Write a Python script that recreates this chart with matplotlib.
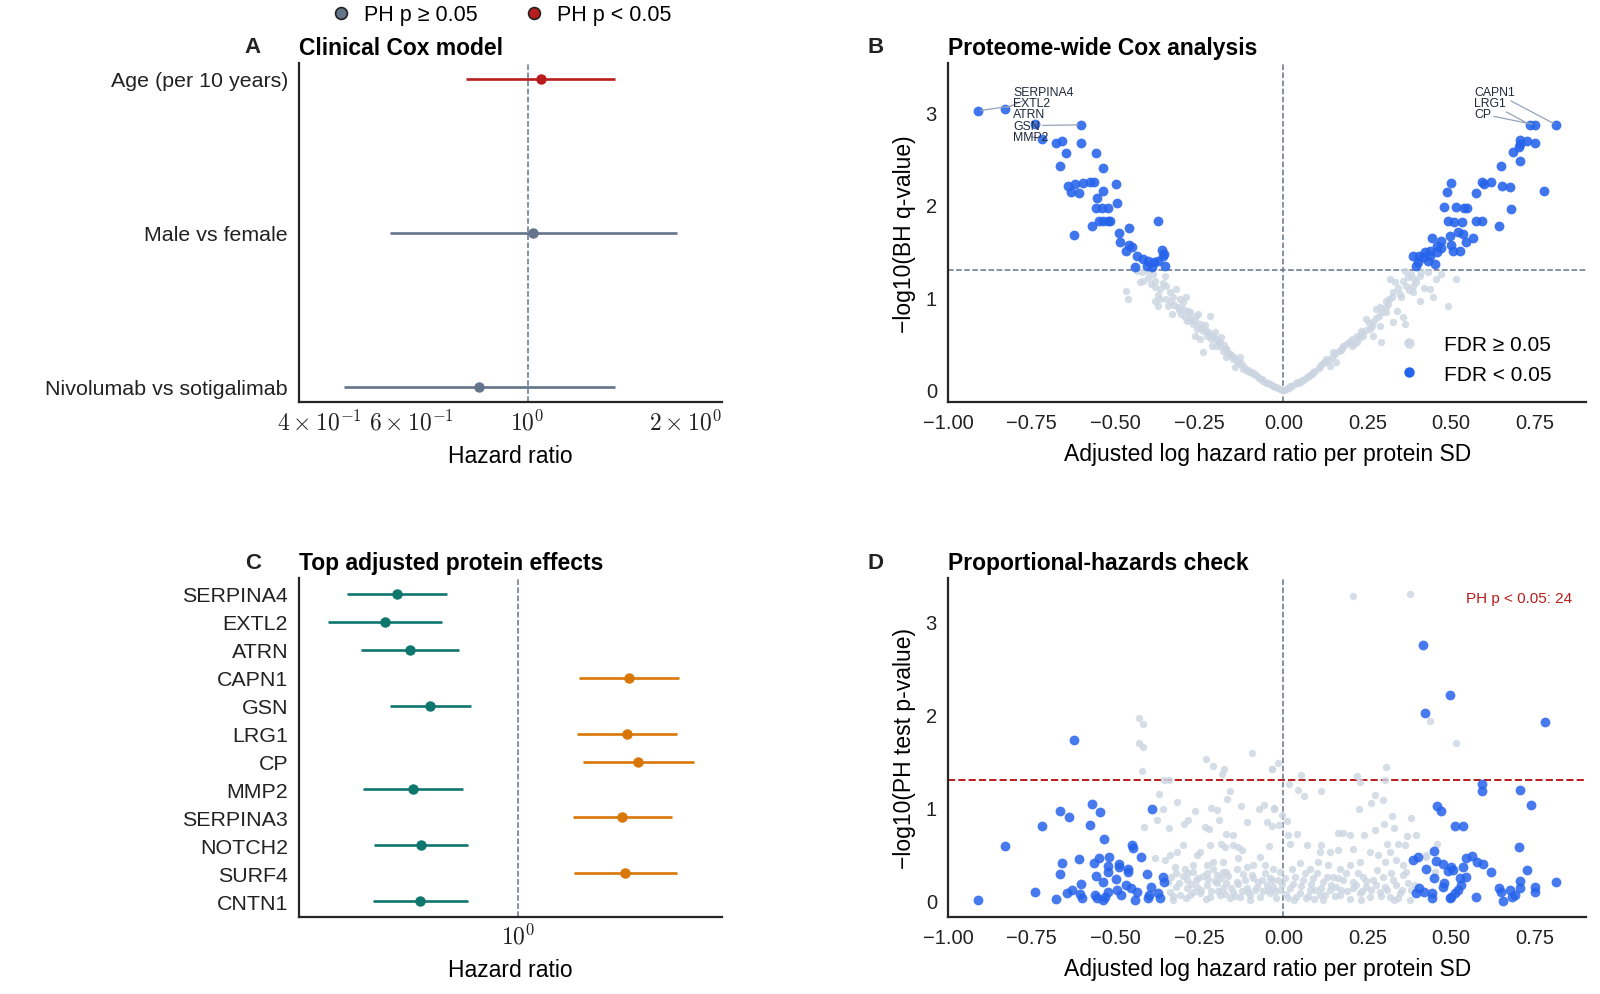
import matplotlib.pyplot as plt
import numpy as np
from matplotlib.lines import Line2D
from matplotlib.ticker import FixedFormatter, FixedLocator, NullLocator

plt.rcParams["font.family"] = ["Liberation Sans", "DejaVu Sans"]
plt.rcParams["mathtext.fontset"] = "cm"

# ---- panel A: clinical Cox model ----
clin_terms = ["Age (per 10 years)", "Male vs female", "Nivolumab vs sotigalimab"]
clin_hr = [1.059, 1.025, 0.809]
clin_lo = [0.764, 0.545, 0.446]
clin_hi = [1.467, 1.932, 1.467]
clin_ph_sig = [True, False, False]

# ---- panel C: top adjusted protein effects ----
prot_names = ["SERPINA4", "EXTL2", "ATRN", "CAPN1", "GSN", "LRG1", "CP",
              "MMP2", "SERPINA3", "NOTCH2", "SURF4", "CNTN1"]
prot_hr = [0.431, 0.397, 0.471, 2.15, 0.542, 2.12, 2.29, 0.481, 2.05, 0.510, 2.10, 0.507]
prot_lo = [0.305, 0.267, 0.335, 1.52, 0.410, 1.50, 1.57, 0.340, 1.46, 0.369, 1.47, 0.365]
prot_hi = [0.610, 0.589, 0.665, 3.05, 0.720, 3.00, 3.37, 0.681, 2.90, 0.706, 3.00, 0.706]

# ---- panel B: volcano (log HR, -log10 q) ----
b_sig = np.array([
    (-0.911, 3.016), (-0.830, 3.041), (-0.741, 2.872), (-0.604, 2.865), (-0.721, 2.717),
    (-0.678, 2.667), (-0.661, 2.685), (-0.604, 2.667), (-0.648, 2.559), (-0.559, 2.559),
    (-0.666, 2.415), (-0.537, 2.397), (-0.641, 2.199), (-0.622, 2.224), (-0.599, 2.231),
    (-0.577, 2.242), (-0.564, 2.242), (-0.634, 2.141), (-0.610, 2.127), (-0.500, 2.224),
    (-0.537, 2.152), (-0.557, 2.076), (-0.495, 2.019), (-0.560, 1.961), (-0.542, 1.961),
    (-0.524, 1.961), (-0.550, 1.828), (-0.537, 1.828), (-0.522, 1.828), (-0.517, 1.828),
    (-0.572, 1.774), (-0.624, 1.673), (-0.373, 1.828), (-0.489, 1.695), (-0.461, 1.749),
    (-0.486, 1.594), (-0.460, 1.565), (-0.453, 1.540), (-0.470, 1.504), (-0.436, 1.450),
    (-0.418, 1.414), (-0.403, 1.396), (-0.386, 1.378), (-0.375, 1.396), (-0.363, 1.515),
    (-0.358, 1.450), (-0.443, 1.324), (-0.408, 1.335), (-0.393, 1.324), (-0.354, 1.342),
    (-0.356, 1.468),
    (0.736, 2.865), (0.751, 2.865), (0.813, 2.865), (0.704, 2.703), (0.704, 2.656),
    (0.726, 2.685), (0.751, 2.667), (0.702, 2.620), (0.684, 2.566), (0.706, 2.476),
    (0.649, 2.422), (0.778, 2.145), (0.593, 2.242), (0.620, 2.242), (0.597, 2.224),
    (0.652, 2.199), (0.674, 2.188), (0.575, 2.127), (0.500, 2.235), (0.486, 2.134),
    (0.478, 1.979), (0.513, 1.979), (0.537, 1.961), (0.547, 1.961), (0.679, 1.954),
    (0.491, 1.828), (0.507, 1.817), (0.533, 1.817), (0.575, 1.828), (0.593, 1.828),
    (0.642, 1.774), (0.520, 1.702), (0.535, 1.684), (0.495, 1.659), (0.471, 1.612),
    (0.458, 1.558), (0.444, 1.637), (0.565, 1.637), (0.545, 1.601), (0.500, 1.565),
    (0.471, 1.529), (0.458, 1.486), (0.438, 1.504), (0.421, 1.486), (0.505, 1.504),
    (0.525, 1.504), (0.386, 1.443), (0.404, 1.450), (0.416, 1.432), (0.401, 1.385),
    (0.394, 1.342), (0.451, 1.360), (0.431, 1.396), (0.438, 1.450),
])
b_ns = np.array([
    (-0.423, 1.271), (-0.428, 1.163), (-0.418, 1.181), (-0.468, 1.073), (-0.463, 0.983),
    (-0.383, 1.181), (-0.383, 1.109), (-0.368, 1.091), (-0.354, 1.235), (-0.349, 1.127),
    (-0.339, 1.055), (-0.319, 1.091), (-0.383, 0.965), (-0.368, 0.983), (-0.373, 0.911),
    (-0.344, 0.911), (-0.329, 1.001), (-0.309, 0.983), (-0.291, 1.001), (-0.314, 0.893),
    (-0.331, 0.821), (-0.304, 0.821), (-0.279, 0.839), (-0.254, 0.821), (-0.219, 0.803),
    (-0.289, 0.749), (-0.269, 0.713), (-0.259, 0.659), (-0.239, 0.641), (-0.229, 0.587),
    (-0.249, 0.551), (-0.215, 0.551), (-0.185, 0.569), (-0.200, 0.479), (-0.239, 0.407),
    (-0.180, 0.425), (-0.170, 0.353), (-0.150, 0.335), (-0.135, 0.281), (-0.120, 0.227),
    (-0.100, 0.191), (-0.080, 0.155), (-0.061, 0.101), (-0.041, 0.065), (-0.021, 0.029),
    (-0.214, 0.479), (-0.190, 0.515), (-0.160, 0.389), (-0.145, 0.245), (-0.110, 0.209),
    (-0.170, 0.443), (-0.264, 0.587), (-0.249, 0.713), (-0.200, 0.551), (-0.130, 0.353),
    (-0.438, 1.289), (-0.403, 1.289), (-0.090, 0.170), (-0.070, 0.120), (-0.050, 0.080),
    (-0.010, 0.012), (-0.030, 0.045), (-0.280, 0.760), (-0.300, 0.870), (-0.225, 0.620),
    (-0.405, 1.210), (-0.395, 1.150), (-0.390, 1.250), (-0.375, 1.030), (-0.360, 1.160),
    (-0.350, 0.980), (-0.335, 0.950), (-0.325, 0.920), (-0.310, 0.860), (-0.300, 0.950),
    (-0.295, 0.790), (-0.285, 0.850), (-0.275, 0.780), (-0.265, 0.740), (-0.260, 0.800),
    (-0.245, 0.670), (-0.235, 0.700), (-0.228, 0.640), (-0.220, 0.610), (-0.210, 0.580),
    (-0.205, 0.630), (-0.195, 0.530), (-0.190, 0.470), (-0.178, 0.490), (-0.172, 0.440),
    (-0.165, 0.400), (-0.155, 0.380), (-0.148, 0.360), (-0.140, 0.310), (-0.128, 0.290),
    (-0.118, 0.250), (-0.105, 0.220), (-0.095, 0.190), (-0.085, 0.170), (-0.075, 0.140),
    (-0.065, 0.120), (-0.055, 0.090), (-0.045, 0.070), (-0.035, 0.055), (-0.025, 0.035),
    (-0.015, 0.020), (-0.005, 0.005),
    (0.317, 1.199), (0.332, 1.163), (0.356, 1.181), (0.371, 1.217), (0.361, 1.289),
    (0.386, 1.127), (0.396, 1.163), (0.406, 1.235), (0.431, 1.271), (0.456, 1.199),
    (0.515, 1.199), (0.436, 1.091), (0.446, 1.001), (0.406, 0.965), (0.386, 1.055),
    (0.347, 1.037), (0.327, 1.055), (0.307, 0.965), (0.287, 0.893), (0.307, 0.839),
    (0.277, 0.875), (0.356, 0.785), (0.361, 0.713), (0.490, 0.911), (0.371, 0.515),
    (0.292, 0.515), (0.267, 0.731), (0.247, 0.767), (0.257, 0.659), (0.237, 0.587),
    (0.218, 0.587), (0.198, 0.515), (0.178, 0.479), (0.148, 0.407), (0.128, 0.335),
    (0.108, 0.263), (0.089, 0.191), (0.069, 0.137), (0.039, 0.083), (0.019, 0.047),
    (0.267, 0.587), (0.287, 0.695), (0.327, 0.731), (0.312, 0.929), (0.337, 0.857),
    (0.203, 0.479), (0.158, 0.299), (0.138, 0.263), (0.218, 0.515), (0.010, 0.020),
    (0.055, 0.110), (0.080, 0.160), (0.120, 0.300), (0.170, 0.430), (0.230, 0.640),
    (0.005, 0.005), (0.015, 0.025), (0.025, 0.040), (0.035, 0.060), (0.045, 0.075),
    (0.055, 0.095), (0.065, 0.120), (0.075, 0.150), (0.085, 0.170), (0.095, 0.210),
    (0.105, 0.240), (0.115, 0.280), (0.125, 0.300), (0.135, 0.320), (0.145, 0.360),
    (0.155, 0.390), (0.165, 0.420), (0.175, 0.450), (0.185, 0.500), (0.195, 0.520),
    (0.205, 0.550), (0.210, 0.500), (0.225, 0.560), (0.235, 0.620), (0.245, 0.650),
    (0.255, 0.720), (0.265, 0.690), (0.275, 0.780), (0.285, 0.800), (0.295, 0.840),
    (0.305, 0.900), (0.315, 0.980), (0.325, 1.000), (0.340, 1.100), (0.350, 1.000),
    (0.365, 1.120), (0.375, 1.080), (0.380, 1.250), (0.390, 1.200), (0.410, 1.280),
    (0.420, 1.100), (0.470, 1.250),
])

# labelled proteins in panel B
b_label_names = ["SERPINA4", "EXTL2", "ATRN", "GSN", "MMP2", "CAPN1", "LRG1", "CP"]
b_label_tx = [-0.806, -0.806, -0.806, -0.806, -0.806, 0.568, 0.568, 0.568]
b_label_ty = [3.218, 3.099, 2.981, 2.856, 2.735, 3.218, 3.099, 2.981]
b_label_px = [-0.830, -0.911, -0.741, -0.604, -0.721, 0.813, 0.736, 0.751]
b_label_py = [3.041, 3.016, 2.872, 2.865, 2.717, 2.865, 2.865, 2.865]

# ---- panel D: proportional hazards check (log HR, -log10 PH p) ----
d_sig = np.array([
    (-0.912, 0.007), (-0.829, 0.586), (-0.742, 0.089), (-0.721, 0.804), (-0.678, 0.017),
    (-0.666, 0.962), (-0.639, 0.897), (-0.624, 1.727), (-0.661, 0.400), (-0.666, 0.282),
    (-0.646, 0.078), (-0.631, 0.114), (-0.610, 0.447), (-0.604, 0.175), (-0.602, 0.025),
    (-0.607, 0.068), (-0.572, 1.040), (-0.546, 0.958), (-0.578, 0.815), (-0.534, 0.668),
    (-0.565, 0.407), (-0.550, 0.461), (-0.519, 0.475), (-0.560, 0.264), (-0.537, 0.196),
    (-0.522, 0.375), (-0.522, 0.311), (-0.491, 0.393), (-0.491, 0.364), (-0.500, 0.232),
    (-0.462, 0.346), (-0.462, 0.304), (-0.452, 0.604), (-0.450, 0.568), (-0.425, 0.468),
    (-0.408, 0.282), (-0.470, 0.168), (-0.455, 0.139), (-0.495, 0.114), (-0.483, 0.060),
    (-0.522, 0.096), (-0.562, 0.060), (-0.555, 0.025), (-0.537, 0.007), (-0.532, 0.043),
    (-0.436, 0.096), (-0.443, 0.007), (-0.403, 0.025), (-0.396, 0.150), (-0.373, 0.078),
    (-0.368, 0.032), (-0.360, 0.250), (-0.355, 0.196), (-0.392, 0.987), (-0.400, 0.060),
    (0.416, 2.750), (0.497, 2.217), (0.421, 2.017), (0.779, 1.927), (0.592, 1.251),
    (0.592, 1.180), (0.706, 1.187), (0.737, 1.030), (0.459, 1.019), (0.469, 0.965),
    (0.511, 0.808), (0.536, 0.808), (0.702, 0.575), (0.449, 0.532), (0.386, 0.436),
    (0.402, 0.465), (0.456, 0.425), (0.476, 0.390), (0.500, 0.364), (0.505, 0.329),
    (0.491, 0.318), (0.535, 0.364), (0.545, 0.454), (0.562, 0.479), (0.577, 0.411),
    (0.595, 0.390), (0.620, 0.311), (0.424, 0.346), (0.449, 0.239), (0.478, 0.185),
    (0.476, 0.150), (0.525, 0.239), (0.545, 0.257), (0.530, 0.168), (0.520, 0.114),
    (0.510, 0.078), (0.500, 0.043), (0.495, 0.025), (0.404, 0.139), (0.396, 0.078),
    (0.418, 0.096), (0.444, 0.078), (0.443, 0.025), (0.575, 0.043), (0.641, 0.132),
    (0.647, 0.096), (0.654, 0.000), (0.674, 0.114), (0.682, 0.043), (0.689, 0.060),
    (0.704, 0.132), (0.704, 0.214), (0.726, 0.325), (0.751, 0.150), (0.749, 0.096),
    (0.813, 0.200),
])
d_ns = np.array([
    (-0.432, 1.963), (-0.420, 1.902), (-0.430, 1.691), (-0.420, 1.648), (-0.421, 1.391),
    (-0.355, 1.294), (-0.342, 1.294), (-0.372, 1.148), (-0.360, 0.983), (-0.318, 1.062),
    (-0.377, 0.869), (-0.416, 0.794), (-0.340, 0.779), (-0.296, 0.826), (-0.284, 0.865),
    (-0.264, 0.962), (-0.231, 1.527), (-0.211, 1.444), (-0.177, 1.419), (-0.182, 1.362),
    (-0.160, 1.180), (-0.167, 1.097), (-0.217, 1.001), (-0.197, 0.972), (-0.193, 0.872),
    (-0.234, 0.794), (-0.221, 0.776), (-0.172, 0.722), (-0.150, 0.711), (-0.128, 1.015),
    (-0.093, 1.591), (-0.110, 0.847), (-0.072, 0.990), (-0.059, 1.033), (-0.029, 0.997),
    (-0.034, 1.419), (-0.015, 1.484), (-0.048, 0.844), (-0.033, 0.804), (-0.013, 0.811),
    (-0.044, 0.590), (-0.383, 0.461), (-0.353, 0.436), (-0.338, 0.490), (-0.317, 0.525),
    (-0.299, 0.597), (-0.259, 0.490), (-0.249, 0.525), (-0.220, 0.597), (-0.185, 0.615),
    (-0.175, 0.579), (-0.150, 0.597), (-0.135, 0.579), (-0.125, 0.543), (-0.135, 0.454),
    (-0.180, 0.418), (-0.210, 0.418), (-0.229, 0.382), (-0.269, 0.382), (-0.294, 0.346),
    (-0.324, 0.364), (-0.319, 0.293), (-0.289, 0.221), (-0.254, 0.239), (-0.229, 0.293),
    (-0.199, 0.275), (-0.170, 0.311), (-0.140, 0.346), (-0.110, 0.364), (-0.090, 0.382),
    (-0.070, 0.472), (-0.055, 0.382), (-0.031, 0.346), (-0.011, 0.311), (-0.016, 0.221),
    (-0.041, 0.239), (-0.065, 0.221), (-0.090, 0.239), (-0.115, 0.221), (-0.140, 0.203),
    (-0.170, 0.186), (-0.199, 0.186), (-0.229, 0.168), (-0.259, 0.150), (-0.289, 0.132),
    (-0.319, 0.150), (-0.339, 0.096), (-0.309, 0.060), (-0.279, 0.060), (-0.249, 0.078),
    (-0.219, 0.043), (-0.190, 0.060), (-0.160, 0.025), (-0.130, 0.043), (-0.100, 0.060),
    (-0.070, 0.043), (-0.041, 0.078), (-0.021, 0.025), (-0.329, 0.007), (-0.269, 0.096),
    (-0.180, 0.132), (-0.150, 0.096), (-0.110, 0.132), (-0.080, 0.150), (-0.050, 0.168),
    (-0.031, 0.150), (-0.269, 0.311), (-0.210, 0.346), (-0.180, 0.311),
    (-0.345, 0.200), (-0.335, 0.250), (-0.310, 0.190), (-0.300, 0.270), (-0.285, 0.300),
    (-0.275, 0.180), (-0.260, 0.220), (-0.245, 0.120), (-0.240, 0.270), (-0.225, 0.230),
    (-0.215, 0.100), (-0.205, 0.210), (-0.195, 0.100), (-0.185, 0.240), (-0.175, 0.070),
    (-0.165, 0.270), (-0.155, 0.140), (-0.145, 0.050), (-0.135, 0.180), (-0.125, 0.100),
    (-0.120, 0.290), (-0.105, 0.090), (-0.095, 0.280), (-0.085, 0.110), (-0.075, 0.200),
    (-0.060, 0.100), (-0.055, 0.300), (-0.045, 0.120), (-0.035, 0.220), (-0.025, 0.100),
    (-0.005, 0.180), (-0.330, 0.050), (-0.290, 0.030), (-0.230, 0.020), (-0.100, 0.010),
    (0.207, 3.279), (0.377, 3.301), (0.436, 1.934), (0.513, 1.691), (0.306, 1.437),
    (0.304, 1.294), (0.219, 1.341), (0.229, 1.276), (0.051, 1.348), (-0.033, 1.419),
    (0.017, 1.259), (0.044, 1.194), (0.061, 1.126), (0.111, 1.176), (-0.029, 0.990),
    (-0.004, 0.926), (0.011, 0.854), (0.272, 1.133), (0.262, 1.054), (0.297, 1.080),
    (0.225, 0.990), (0.323, 0.908), (0.381, 0.890), (0.299, 0.829), (0.330, 0.783),
    (0.272, 0.758), (0.240, 0.711), (0.198, 0.704), (0.163, 0.733), (0.178, 0.729),
    (0.367, 0.693), (0.396, 0.704), (0.459, 0.615), (0.309, 0.615), (0.342, 0.615),
    (0.362, 0.604), (0.039, 0.722), (0.014, 0.711), (0.019, 0.615), (0.069, 0.597),
    (0.113, 0.597), (0.138, 0.525), (0.108, 0.525), (0.163, 0.543), (0.207, 0.561),
    (0.257, 0.525), (0.282, 0.490), (0.317, 0.525), (0.302, 0.418), (0.336, 0.436),
    (0.356, 0.382), (0.426, 0.490), (0.227, 0.418), (0.198, 0.382), (0.168, 0.346),
    (0.133, 0.382), (0.103, 0.418), (0.078, 0.346), (0.049, 0.400), (0.024, 0.346),
    (0.004, 0.239), (0.034, 0.257), (0.059, 0.221), (0.088, 0.239), (0.118, 0.203),
    (0.148, 0.257), (0.178, 0.221), (0.207, 0.203), (0.237, 0.257), (0.267, 0.221),
    (0.297, 0.257), (0.327, 0.221), (0.356, 0.275), (0.371, 0.186), (-0.011, 0.114),
    (0.019, 0.132), (0.048, 0.078), (0.078, 0.114), (0.108, 0.060), (0.138, 0.114),
    (0.168, 0.060), (0.197, 0.017), (0.227, 0.078), (0.257, 0.043), (0.287, 0.096),
    (0.317, 0.043), (0.346, 0.078), (0.376, 0.007), (0.207, 0.132), (0.068, 0.025),
    (0.118, 0.007), (0.014, 0.025), (0.158, 0.150), (0.247, 0.150), (0.302, 0.150),
    (0.391, 0.168), (0.451, 0.311), (0.426, 0.472),
    (0.008, 0.070), (0.028, 0.180), (0.038, 0.040), (0.052, 0.160), (0.063, 0.300),
    (0.072, 0.050), (0.083, 0.180), (0.095, 0.120), (0.100, 0.300), (0.113, 0.140),
    (0.125, 0.060), (0.130, 0.250), (0.142, 0.170), (0.155, 0.050), (0.163, 0.240),
    (0.172, 0.120), (0.185, 0.300), (0.190, 0.100), (0.215, 0.170), (0.222, 0.300),
    (0.235, 0.100), (0.245, 0.210), (0.262, 0.120), (0.275, 0.170), (0.280, 0.330),
    (0.292, 0.050), (0.310, 0.120), (0.320, 0.300), (0.335, 0.170), (0.340, 0.030),
    (0.352, 0.120), (0.365, 0.310), (0.380, 0.120), (0.030, 0.010), (0.090, 0.020),
    (0.230, 0.010), (0.330, 0.010),
])
ph_sig_count = 24

# colours
slate = "#64748b"
red = "#b91c1c"
teal = "#0f766e"
orange = "#d97706"
blue = "#2563eb"
light = "#cbd5e1"
ink = "#262626"


def clean(ax):
    for side in ("top", "right"):
        ax.spines[side].set_visible(False)
    for side in ("left", "bottom"):
        ax.spines[side].set_color(ink)
        ax.spines[side].set_linewidth(1.6)
    ax.tick_params(length=0, labelsize=14.5, colors="#222222", pad=8)


fig = plt.figure(figsize=(16, 9.95), dpi=100)
axA = fig.add_axes([0.187, 0.5947, 0.264, 0.3407])
axB = fig.add_axes([0.5925, 0.5947, 0.399, 0.3407])
axC = fig.add_axes([0.187, 0.0777, 0.264, 0.3400])
axD = fig.add_axes([0.5925, 0.0777, 0.399, 0.3400])

title_kw = dict(loc="left", fontsize=16.5, fontweight="bold", pad=7)
label_kw = dict(fontsize=16.5, labelpad=7)
log_labels_a = [r"$4\times10^{-1}$", r"$6\times10^{-1}$", r"$10^{0}$", r"$2\times10^{0}$"]

# ---- A ----
for i, term in enumerate(clin_terms):
    c = red if clin_ph_sig[i] else slate
    axA.plot([clin_lo[i], clin_hi[i]], [i, i], color=c, lw=1.9, solid_capstyle="butt")
    axA.plot(clin_hr[i], i, "o", color=c, ms=6.5)
axA.axvline(1.0, color=slate, ls="--", lw=1.1, zorder=0)
axA.set_xscale("log")
axA.set_xlim(0.366, 2.35)
axA.set_ylim(2.1, -0.1)
axA.xaxis.set_major_locator(FixedLocator([0.4, 0.6, 1.0, 2.0]))
axA.xaxis.set_major_formatter(FixedFormatter(log_labels_a))
axA.xaxis.set_minor_locator(NullLocator())
axA.set_yticks(range(len(clin_terms)))
axA.set_yticklabels(clin_terms)
clean(axA)
axA.tick_params(axis="x", labelsize=17, pad=5)
axA.tick_params(axis="y", labelsize=15.4)
axA.set_xlabel("Hazard ratio", **label_kw)
axA.set_title("Clinical Cox model", **title_kw)

# ---- B ----
axB.scatter(b_ns[:, 0], b_ns[:, 1], s=28, color=light, alpha=0.8, lw=0, zorder=2)
axB.scatter(b_sig[:, 0], b_sig[:, 1], s=50, color=blue, alpha=0.88, lw=0, zorder=3)
axB.axhline(-np.log10(0.05), color=slate, ls="--", lw=1.1, zorder=1)
axB.axvline(0.0, color=slate, ls="--", lw=1.1, zorder=1)
for name, tx, ty, px, py in zip(b_label_names, b_label_tx, b_label_ty, b_label_px, b_label_py):
    axB.annotate(name, xy=(px, py), xytext=(tx, ty), fontsize=8.8, color="#1e293b",
                 ha="left", va="center", zorder=4,
                 arrowprops=dict(arrowstyle="-", color="#94a3b8", lw=0.9,
                                 shrinkA=0, shrinkB=2))
axB.set_xlim(-1.0, 0.903)
axB.set_ylim(-0.133, 3.53)
axB.set_xticks([-1.0, -0.75, -0.5, -0.25, 0.0, 0.25, 0.5, 0.75])
axB.set_yticks([0, 1, 2, 3])
clean(axB)
axB.set_xlabel("Adjusted log hazard ratio per protein SD", **label_kw)
axB.set_ylabel("\u2212log10(BH q-value)", **label_kw)
axB.set_title("Proteome-wide Cox analysis", **title_kw)
fdr_handles = [
    Line2D([], [], ls="", marker="o", ms=7.5, color=light, alpha=0.8, mew=0, label="FDR \u2265 0.05"),
    Line2D([], [], ls="", marker="o", ms=7.5, color=blue, mew=0, label="FDR < 0.05"),
]
axB.legend(handles=fdr_handles, loc="lower right", bbox_to_anchor=(0.975, 0.0),
           frameon=False, fontsize=15, handletextpad=0.7)

# ---- C ----
for i, name in enumerate(prot_names):
    c = orange if prot_hr[i] > 1 else teal
    axC.plot([prot_lo[i], prot_hi[i]], [i, i], color=c, lw=1.9, solid_capstyle="butt")
    axC.plot(prot_hr[i], i, "o", color=c, ms=6.5)
axC.axvline(1.0, color=slate, ls="--", lw=1.1, zorder=0)
axC.set_xscale("log")
axC.set_xlim(0.219, 4.09)
axC.set_ylim(11.55, -0.55)
axC.xaxis.set_major_locator(FixedLocator([1.0]))
axC.xaxis.set_major_formatter(FixedFormatter([r"$10^{0}$"]))
axC.xaxis.set_minor_locator(NullLocator())
axC.set_yticks(range(len(prot_names)))
axC.set_yticklabels(prot_names)
clean(axC)
axC.tick_params(axis="x", labelsize=17, pad=5)
axC.tick_params(axis="y", labelsize=15.4)
axC.set_xlabel("Hazard ratio", **label_kw)
axC.set_title("Top adjusted protein effects", **title_kw)

# ---- D ----
axD.scatter(d_ns[:, 0], d_ns[:, 1], s=28, color=light, alpha=0.8, lw=0, zorder=2)
axD.scatter(d_sig[:, 0], d_sig[:, 1], s=50, color=blue, alpha=0.85, lw=0, zorder=3)
axD.axhline(-np.log10(0.05), color=red, ls="--", lw=1.4, zorder=1)
axD.axvline(0.0, color=slate, ls="--", lw=1.1, zorder=1)
axD.text(0.977, 0.943, f"PH p < 0.05: {ph_sig_count}", transform=axD.transAxes,
         ha="right", va="center", fontsize=11, color=red)
axD.set_xlim(-1.0, 0.903)
axD.set_ylim(-0.172, 3.466)
axD.set_xticks([-1.0, -0.75, -0.5, -0.25, 0.0, 0.25, 0.5, 0.75])
axD.set_yticks([0, 1, 2, 3])
clean(axD)
axD.set_xlabel("Adjusted log hazard ratio per protein SD", **label_kw)
axD.set_ylabel("\u2212log10(PH test p-value)", **label_kw)
axD.set_title("Proportional-hazards check", **title_kw)

# panel letters
for letter, x, y in [("A", 0.158, 0.952), ("B", 0.547, 0.952), ("C", 0.158, 0.434), ("D", 0.547, 0.434)]:
    fig.text(x, y, letter, fontsize=16, fontweight="bold", ha="center", va="center", color="#222222")

# top legend for PH status
ph_handles = [
    Line2D([], [], ls="", marker="o", ms=8.5, color=slate, mec="#222222", mew=1.2, label="PH p \u2265 0.05"),
    Line2D([], [], ls="", marker="o", ms=8.5, color=red, mec="#222222", mew=1.2, label="PH p < 0.05"),
]
fig.legend(handles=ph_handles, loc="upper center", bbox_to_anchor=(0.313, 1.014), ncol=2,
           frameon=False, fontsize=15.5, handlelength=1.0, handletextpad=0.6, columnspacing=2.1)

fig.savefig("out.png", dpi=100)
